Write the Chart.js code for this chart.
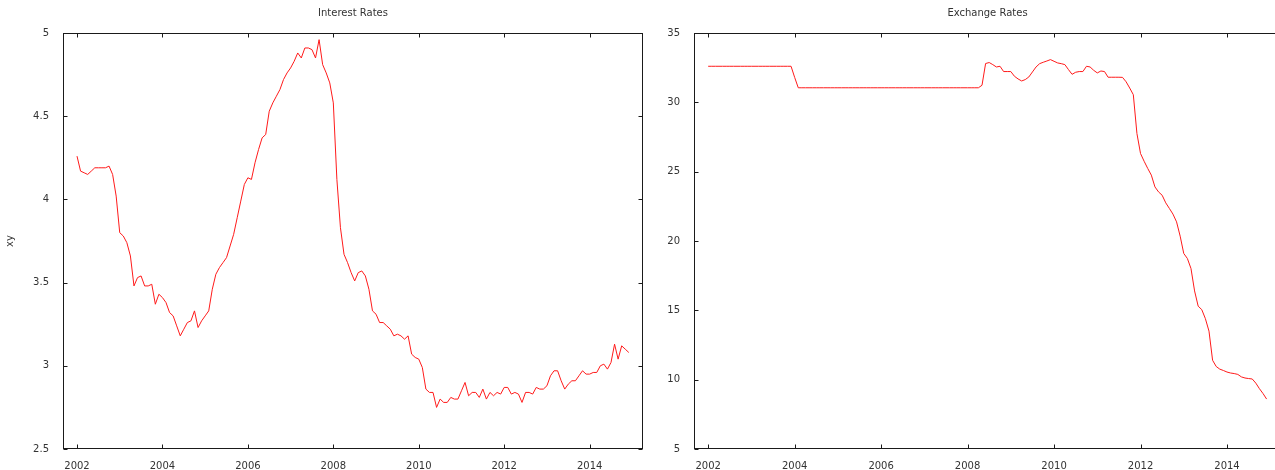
<!DOCTYPE html>
<html>
<head>
<meta charset="utf-8">
<script src="https://cdn.jsdelivr.net/npm/chart.js@4.4.1/dist/chart.umd.min.js"></script>
<style>
html, body { margin: 0; padding: 0; background: #fff; overflow: hidden; width: 1275px; height: 470px; }
.box { position: absolute; top: 0; height: 470px; }
#left { left: 0; width: 655px; }
#right { left: 655px; width: 640px; }
</style>
</head>
<body>
<div class="box" id="left"><canvas id="rates"></canvas></div>
<div class="box" id="right"><canvas id="fx"></canvas></div>
<script>
// monthly observations, Jan 2002 .. Dec 2014 (x as decimal year)
const startYear = 2002;
const months = [];
for (let i = 0; i < 156; i++) months.push(startYear + i / 12);

const yearTicks = [2002, 2004, 2006, 2008, 2010, 2012, 2014];
const rateTicks = [2.5, 3, 3.5, 4, 4.5, 5];
const fxTicks = [5, 10, 15, 20, 25, 30, 35];

const interestRates = [
  4.26, 4.17, 4.16, 4.15, 4.17, 4.19, 4.19, 4.19, 4.19, 4.20, 4.15, 4.02,
  3.80, 3.78, 3.74, 3.66, 3.48, 3.53, 3.54, 3.48, 3.48, 3.49, 3.37, 3.43,
  3.41, 3.38, 3.32, 3.30, 3.24, 3.18, 3.22, 3.26, 3.27, 3.33, 3.23, 3.27,
  3.30, 3.33, 3.46, 3.55, 3.59, 3.62, 3.65, 3.72, 3.79, 3.89, 3.99, 4.09,
  4.13, 4.12, 4.22, 4.30, 4.37, 4.39, 4.53, 4.58, 4.62, 4.66, 4.72, 4.76,
  4.79, 4.83, 4.88, 4.85, 4.91, 4.91, 4.90, 4.85, 4.96, 4.81, 4.76, 4.70,
  4.58, 4.12, 3.83, 3.67, 3.62, 3.56, 3.51, 3.56, 3.57, 3.54, 3.46, 3.33,
  3.31, 3.26, 3.26, 3.24, 3.22, 3.18, 3.19, 3.18, 3.16, 3.18, 3.07, 3.05,
  3.04, 2.99, 2.86, 2.84, 2.84, 2.75, 2.80, 2.78, 2.78, 2.81, 2.80, 2.80,
  2.85, 2.90, 2.82, 2.84, 2.84, 2.81, 2.86, 2.80, 2.84, 2.82, 2.84, 2.83,
  2.87, 2.87, 2.83, 2.84, 2.83, 2.78, 2.84, 2.84, 2.83, 2.87, 2.86, 2.86,
  2.88, 2.94, 2.97, 2.97, 2.91, 2.86, 2.89, 2.91, 2.91, 2.94, 2.97, 2.95,
  2.95, 2.96, 2.96, 3.00, 3.01, 2.98, 3.02, 3.13, 3.04, 3.12, 3.10, 3.08
];

const exchangeRates = [
  32.6, 32.6, 32.6, 32.6, 32.6, 32.6, 32.6, 32.6, 32.6, 32.6, 32.6, 32.6,
  32.6, 32.6, 32.6, 32.6, 32.6, 32.6, 32.6, 32.6, 32.6, 32.6, 32.6, 32.6,
  31.8, 31.05, 31.05, 31.05, 31.05, 31.05, 31.05, 31.05, 31.05, 31.05, 31.05, 31.05,
  31.05, 31.05, 31.05, 31.05, 31.05, 31.05, 31.05, 31.05, 31.05, 31.05, 31.05, 31.05,
  31.05, 31.05, 31.05, 31.05, 31.05, 31.05, 31.05, 31.05, 31.05, 31.05, 31.05, 31.05,
  31.05, 31.05, 31.05, 31.05, 31.05, 31.05, 31.05, 31.05, 31.05, 31.05, 31.05, 31.05,
  31.05, 31.05, 31.05, 31.05, 31.23, 32.8, 32.87, 32.72, 32.55, 32.6, 32.22, 32.22,
  32.22, 31.88, 31.69, 31.54, 31.64, 31.83, 32.19, 32.55, 32.79, 32.89, 32.98, 33.08,
  32.96, 32.84, 32.79, 32.72, 32.36, 32.02, 32.17, 32.22, 32.22, 32.6, 32.55, 32.31,
  32.12, 32.26, 32.22, 31.81, 31.81, 31.81, 31.81, 31.8, 31.48, 31.03, 30.55, 27.75,
  26.31, 25.75, 25.23, 24.75, 23.9, 23.54, 23.3, 22.75, 22.35, 21.94, 21.38, 20.35,
  19.1, 18.74, 18.02, 16.4, 15.3, 15.05, 14.4, 13.5, 11.4, 10.95, 10.76, 10.66,
  10.55, 10.48, 10.44, 10.38, 10.2, 10.12, 10.08, 10.05, 9.75, 9.35, 9.0, 8.6
];

Chart.defaults.font.family = "'DejaVu Sans', Verdana, sans-serif";
Chart.defaults.font.size = 10;
Chart.defaults.color = '#333';

// gnuplot-like box with inward ticks on all sides, plus the title over the plot area
const frame = {
  id: 'frame',
  afterDraw(chart, args, opts) {
    const {ctx, chartArea: a, scales: {x, y}} = chart;
    const L = Math.round(a.left) + 0.5, R = Math.round(a.right) - 0.5;
    const T = Math.round(a.top) + 0.5, B = Math.round(a.bottom) - 0.5;
    ctx.save();
    ctx.strokeStyle = '#1a1a1a';
    ctx.lineWidth = 1;
    ctx.strokeRect(L, T, R - L, B - T);
    ctx.beginPath();
    x.ticks.forEach(t => {
      const px = Math.round(x.getPixelForValue(t.value)) + 0.5;
      ctx.moveTo(px, B); ctx.lineTo(px, B - 4);
      ctx.moveTo(px, T); ctx.lineTo(px, T + 4);
    });
    y.ticks.forEach(t => {
      const py = Math.round(y.getPixelForValue(t.value)) + 0.5;
      ctx.moveTo(L, py); ctx.lineTo(L + 4, py);
      ctx.moveTo(R, py); ctx.lineTo(R - 4, py);
    });
    ctx.stroke();
    ctx.fillStyle = '#333';
    ctx.font = "10px 'DejaVu Sans'";
    ctx.textAlign = 'center';
    ctx.textBaseline = 'middle';
    ctx.fillText(opts.text, (a.left + a.right) / 2, 13);
    ctx.restore();
  }
};

function makeChart(id, title, values, yTicks, yWidth, padRight, yTitle) {
  return new Chart(document.getElementById(id), {
    type: 'line',
    data: {
      datasets: [{
        data: months.map((m, i) => ({x: m, y: values[i]})),
        borderColor: '#ff1a1a',
        borderWidth: 1,
        pointRadius: 0,
        tension: 0,
        fill: false
      }]
    },
    options: {
      responsive: true,
      maintainAspectRatio: false,
      animation: false,
      layout: {padding: {top: 33, right: padRight, bottom: 0, left: 0}},
      plugins: {
        legend: {display: false},
        tooltip: {enabled: false},
        frame: {text: title}
      },
      scales: {
        x: {
          type: 'linear',
          min: 2001.672,
          max: 2015.249,
          grid: {display: false},
          border: {display: false},
          afterBuildTicks: s => { s.ticks = yearTicks.map(v => ({value: v})); },
          afterFit: s => { s.height = 21; s.paddingLeft = 0; s.paddingRight = 0; },
          ticks: {padding: 3, maxRotation: 0, autoSkip: false, callback: v => String(v)}
        },
        y: {
          min: yTicks[0],
          max: yTicks[yTicks.length - 1],
          grid: {display: false},
          border: {display: false},
          afterBuildTicks: s => { s.ticks = yTicks.map(v => ({value: v})); },
          afterFit: s => { s.width = yWidth; s.paddingTop = 0; s.paddingBottom = 0; },
          ticks: {padding: 6, autoSkip: false, callback: v => String(v)},
          title: {display: !!yTitle, text: yTitle || '', padding: {top: 4, bottom: 0}, font: {size: 10}}
        }
      }
    },
    plugins: [frame]
  });
}

makeChart('rates', 'Interest Rates', interestRates, rateTicks, 63, 12, 'xy');
makeChart('fx', 'Exchange Rates', exchangeRates, fxTicks, 39, 14, null);
</script>
</body>
</html>
